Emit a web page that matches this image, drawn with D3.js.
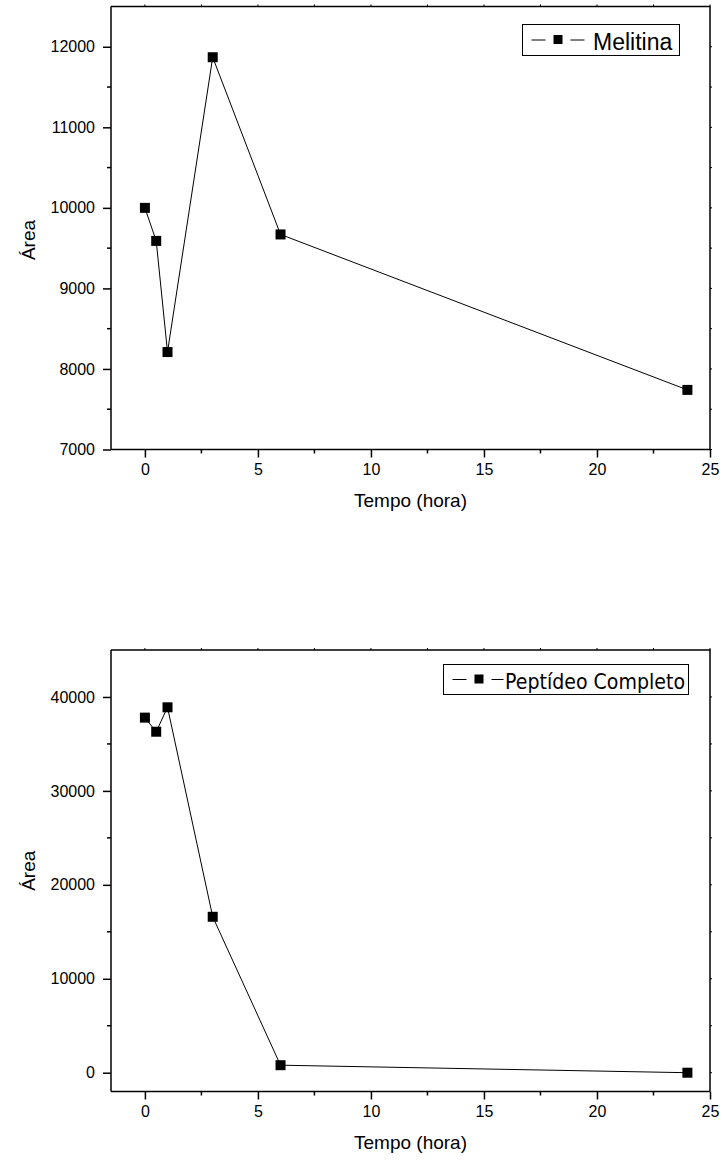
<!DOCTYPE html>
<html lang="pt">
<head>
    <meta charset="UTF-8">
    <title>Melitina / Peptídeo Completo</title>
    <script src="https://d3js.org/d3.v7.min.js"></script>
    <style>
        body { margin: 0; background: #fff; }
        svg { display: block; }
    </style>
</head>
<body>
    <script>
        // data
        const hours = [0, 0.5, 1, 3, 6, 24];
        const melitina = [10000, 9590, 8210, 11870, 9670, 7740];
        const peptideo = [37800, 36300, 38900, 16600, 800, 0];

        const xTicks = [0, 5, 10, 15, 20, 25];
        const xMinor = [2.5, 7.5, 12.5, 17.5, 22.5];
        const yTicksTop = [7000, 8000, 9000, 10000, 11000, 12000];
        const yMinorTop = [7500, 8500, 9500, 10500, 11500];
        const yTicksBottom = [0, 10000, 20000, 30000, 40000];
        const yMinorBottom = [5000, 15000, 25000, 35000];

        const width = 722, height = 1162;
        const left = 111, right = 710;
        const FONT = "Liberation Sans, Arial, sans-serif";

        const svg = d3.select("body").append("svg")
            .attr("width", width)
            .attr("height", height);

        const x = d3.scaleLinear().domain([-1.5, 25]).range([left, right]);

        function drawChart(o) {
            const y = d3.scaleLinear().domain(o.yDomain).range([o.bottom, o.top]);
            const g = svg.append("g");

            // frame (top + right)
            g.append("path")
                .attr("d", `M${left},${o.top}H${right}V${o.bottom}`)
                .attr("fill", "none").attr("stroke", "#000").attr("stroke-width", 1.5);

            // tiny ticks on top and right borders
            g.selectAll("line.tt").data(xTicks.concat(xMinor)).enter().append("line")
                .attr("x1", d => x(d)).attr("x2", d => x(d))
                .attr("y1", o.top).attr("y2", o.top - 2)
                .attr("stroke", "#000").attr("stroke-width", 1);
            g.selectAll("line.rt").data(o.yTicks.concat(o.yMinor)).enter().append("line")
                .attr("y1", d => y(d)).attr("y2", d => y(d))
                .attr("x1", right).attr("x2", right + 2)
                .attr("stroke", "#000").attr("stroke-width", 1);

            // bottom axis
            const xa = g.append("g").attr("transform", `translate(0,${o.bottom})`)
                .call(d3.axisBottom(x).tickValues(xTicks).tickSize(8).tickSizeOuter(0).tickPadding(6));
            xa.selectAll("line.minor").data(xMinor).enter().append("line")
                .attr("x1", d => x(d)).attr("x2", d => x(d))
                .attr("y1", 0).attr("y2", 4)
                .attr("stroke", "#000").attr("stroke-width", 1.5);

            // left axis
            const ya = g.append("g").attr("transform", `translate(${left},0)`)
                .call(d3.axisLeft(y).tickValues(o.yTicks).tickFormat(d3.format("d"))
                    .tickSize(8).tickSizeOuter(0).tickPadding(8));
            ya.selectAll("line.minor").data(o.yMinor).enter().append("line")
                .attr("y1", d => y(d)).attr("y2", d => y(d))
                .attr("x1", 0).attr("x2", -4)
                .attr("stroke", "#000").attr("stroke-width", 1.5);

            [xa, ya].forEach(a => {
                a.attr("font-family", FONT).attr("font-size", 16);
                a.select(".domain").attr("stroke-width", 1.5);
                a.selectAll(".tick line").attr("stroke-width", 1.5);
            });
            ya.select(".domain").attr("d", `M0,${o.top}V${o.bottom}`);
            xa.select(".domain").attr("d", `M${left},0H${right}`);

            // axis titles
            g.append("text")
                .attr("x", (left + right) / 2).attr("y", o.bottom + o.titleGap)
                .attr("text-anchor", "middle")
                .attr("font-family", FONT).attr("font-size", 19)
                .text("Tempo (hora)");
            g.append("text")
                .attr("transform", `translate(35,${(o.top + o.bottom) / 2 + o.areaShift}) rotate(-90)`)
                .attr("text-anchor", "middle")
                .attr("font-family", FONT).attr("font-size", 19)
                .text("Área");

            // series
            const pts = hours.map((h, i) => [h, o.values[i]]);
            g.append("path")
                .datum(pts)
                .attr("fill", "none").attr("stroke", "#000").attr("stroke-width", 1)
                .attr("d", d3.line().x(d => x(d[0])).y(d => y(d[1])));
            g.selectAll("rect.pt").data(pts).enter().append("rect")
                .attr("x", d => x(d[0]) - 5).attr("y", d => y(d[1]) - 5)
                .attr("width", 10).attr("height", 10).attr("fill", "#000");

            // legend
            const L = o.legend;
            const lg = g.append("g");
            lg.append("rect")
                .attr("x", L.x).attr("y", L.y).attr("width", L.w).attr("height", L.h)
                .attr("fill", "#fff").attr("stroke", "#000").attr("stroke-width", 1);
            const cy = L.y + L.h / 2;
            lg.append("line").attr("x1", L.x + 9).attr("x2", L.x + 23)
                .attr("y1", cy).attr("y2", cy).attr("stroke", "#000");
            lg.append("rect").attr("x", L.x + 31).attr("y", cy - 5)
                .attr("width", 9).attr("height", 9).attr("fill", "#000");
            lg.append("line").attr("x1", L.x + 48).attr("x2", L.x + L.dash2)
                .attr("y1", cy).attr("y2", cy).attr("stroke", "#000");
            const t = lg.append("text")
                .attr("x", L.tx).attr("y", L.y + L.h - 6)
                .attr("font-size", L.fs)
                .attr("font-family", L.font)
                .text(L.label);
            if (L.tl) t.attr("textLength", L.tl).attr("lengthAdjust", "spacingAndGlyphs");
        }

        drawChart({
            top: 6.5, bottom: 449.5, titleGap: 57, areaShift: 12,
            yDomain: [7000, 12500],
            yTicks: yTicksTop, yMinor: yMinorTop,
            values: melitina,
            legend: { x: 522.5, y: 24.5, w: 157, h: 31, dash2: 62, tx: 593, fs: 23,
                      font: FONT, label: "Melitina" }
        });

        drawChart({
            top: 650, bottom: 1091.5, titleGap: 57, areaShift: 0,
            yDomain: [-2000, 45000],
            yTicks: yTicksBottom, yMinor: yMinorBottom,
            values: peptideo,
            legend: { x: 443.5, y: 664.5, w: 245, h: 30, dash2: 60, tx: 505, fs: 22,
                      font: "DejaVu Sans, sans-serif", label: "Peptídeo Completo", tl: 180 }
        });
    </script>
</body>
</html>
